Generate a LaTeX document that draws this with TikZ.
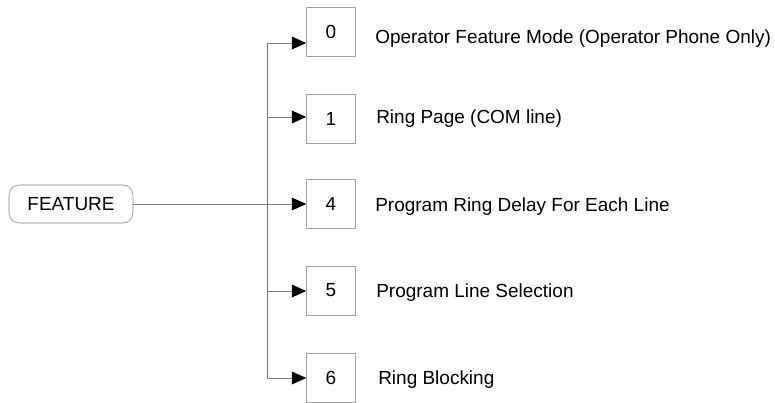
\documentclass[tikz,border=0pt]{standalone}
\usepackage{fontspec}
\setmainfont{Liberation Sans}
\usetikzlibrary{arrows.meta}

\tikzset{keybox/.style={draw=gray!75,minimum width=1.225cm,minimum height=1.225cm,inner sep=0pt},
         branch/.style={draw=gray,-{Triangle[length=0.36cm,width=0.32cm,black]}},
         item/.style={anchor=base west,inner sep=0pt}}

\begin{document}
\begin{tikzpicture}[x=0.025cm,y=-0.025cm,font=\fontsize{13.5}{15}\selectfont]
                                \useasboundingbox (0,0) rectangle (775,402);

                                \node[draw=gray,rounded corners=0.25cm,minimum width=3.1cm,minimum height=0.95cm] (feat) at (71,204) {FEATURE};

                                \node[keybox] (k0) at (331,31.5) {0};
                                \node[keybox] (k1) at (331,118.5) {1};
                                \node[keybox] (k4) at (331,204) {4};
                                \node[keybox] (k5) at (331,290.5) {5};
                                \node[keybox] (k6) at (331,378) {6};

                                \node[item] (t0) at (375,43.3) {Operator Feature Mode (Operator Phone Only)};
                                \node[item] (t1) at (376,123.3) {Ring Page (COM line)};
                                \node[item] (t4) at (375,211) {Program Ring Delay For Each Line};
                                \node[item] (t5) at (376,297.7) {Program Line Selection};
                                \node[item] (t6) at (378,384) {Ring Blocking};

                                \coordinate (j0) at (267,43);
                                \coordinate (j1) at (267,117);
                                \coordinate (j4) at (267,204);
                                \coordinate (j5) at (267,291);
                                \coordinate (j6) at (267,378);

                                \draw[gray!90!black] (j0) -- (j6);
                                \draw[gray] (feat.east) -- (j4);
                                \draw[branch] (j0) -- (j0 -| k0.west);
                                \draw[branch] (j1) -- (j1 -| k1.west);
                                \draw[branch] (j4) -- (j4 -| k4.west);
                                \draw[branch] (j5) -- (j5 -| k5.west);
                                \draw[branch] (j6) -- (j6 -| k6.west);
                            \end{tikzpicture}
\end{document}
